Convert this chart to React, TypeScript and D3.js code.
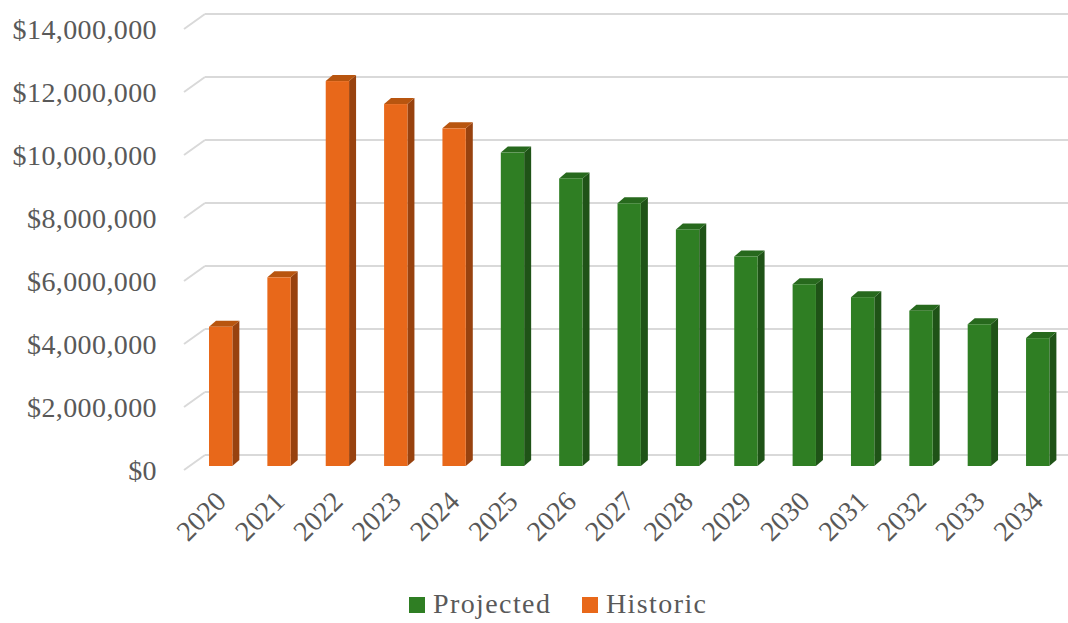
import * as d3 from "d3"

const years = ["2020", "2021", "2022", "2023", "2024", "2025", "2026", "2027", "2028", "2029", "2030", "2031", "2032", "2033", "2034"]
const values = [4420000, 5990000, 12220000, 11490000, 10720000, 9950000, 9130000, 8340000, 7510000, 6650000, 5770000, 5360000, 4930000, 4500000, 4060000]
const historicYears = ["2020", "2021", "2022", "2023", "2024"]
const yTicks = [0, 2000000, 4000000, 6000000, 8000000, 10000000, 12000000, 14000000]
const legendItems = ["Projected", "Historic"]

const width = 1068
const height = 623
const font = "'Liberation Serif', 'Times New Roman', serif"
const textColor = "#595959"

const colors = {
  Historic: { front: "#E8681A", side: "#98420F", top: "#B8550F" },
  Projected: { front: "#2F7E23", side: "#1F5317", top: "#27691D" },
}

export default function App() {
  // back wall scale
  const y = d3.scaleLinear().domain([0, 14000000]).range([455, 14])
  const x = d3.scaleBand<string>().domain(years).range([191.5, 1066.9]).paddingInner(0.6).paddingOuter(0.3)

  const wallLeft = 205
  const wallDx = 21 // side wall depth offset
  const wallDy = 15
  const floorFront = 466 // bottom of bar front faces
  const depthX = 7
  const depthY = 6
  const fmt = d3.format("$,")

  return (
    <div style={{ position: "absolute", left: 0, top: 0, background: "#fff" }}>
      <svg width={width} height={height} style={{ display: "block" }}>
        <rect width={width} height={height} fill="#fff" />

        {/* gridlines: back wall + side wall */}
        {yTicks.map((t) => (
          <g key={t}>
            <line x1={wallLeft} x2={width} y1={y(t)} y2={y(t)} stroke="#d9d9d9" strokeWidth={2} />
            <line x1={wallLeft - wallDx} x2={wallLeft} y1={y(t) + wallDy} y2={y(t)} stroke="#d9d9d9" strokeWidth={2} />
            <text
              x={157}
              y={y(t) + wallDy}
              dy="0.35em"
              textAnchor="end"
              fontFamily={font}
              fontSize={28}
              letterSpacing={0.4}
              fill={textColor}
            >
              {fmt(t)}
            </text>
          </g>
        ))}

        {/* 3D columns */}
        {years.map((yr, i) => {
          const c = historicYears.includes(yr) ? colors.Historic : colors.Projected
          const x0 = x(yr) as number
          const x1 = x0 + x.bandwidth()
          const h = y(0) - y(values[i])
          const top = floorFront - h
          return (
            <g key={yr}>
              <polygon
                points={`${x1},${top} ${x1 + depthX},${top - depthY} ${x1 + depthX},${floorFront - depthY} ${x1},${floorFront}`}
                fill={c.side}
              />
              <polygon
                points={`${x0},${top} ${x0 + depthX},${top - depthY} ${x1 + depthX},${top - depthY} ${x1},${top}`}
                fill={c.top}
              />
              <rect x={x0} y={top} width={x1 - x0} height={h} fill={c.front} />
            </g>
          )
        })}

        {/* category labels */}
        {years.map((yr) => {
          const cx = (x(yr) as number) + x.bandwidth() / 2 + 7
          const cy = 503
          return (
            <text
              key={yr}
              transform={`translate(${cx},${cy}) rotate(-45)`}
              textAnchor="end"
              fontFamily={font}
              fontSize={28}
              fill={textColor}
            >
              {yr}
            </text>
          )
        })}

        {/* legend */}
        {legendItems.map((name, i) => {
          const lx = i === 0 ? 409 : 582
          const c = name === "Historic" ? colors.Historic : colors.Projected
          return (
            <g key={name} transform={`translate(${lx},0)`}>
              <rect x={0} y={597} width={16} height={16} fill={c.front} />
              <text x={24} y={613} fontFamily={font} fontSize={28} letterSpacing={1.4} fill={textColor}>
                {name}
              </text>
            </g>
          )
        })}
      </svg>
    </div>
  )
}
